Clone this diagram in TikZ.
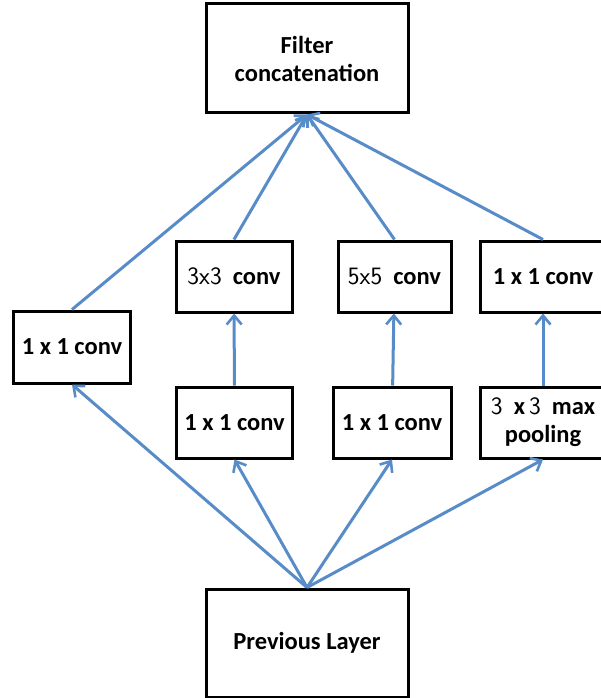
\documentclass[tikz,border=0pt]{standalone}
\usepackage{fontspec}
\setmainfont{Carlito}
\usepackage{tikz}
\usetikzlibrary{arrows.meta}
\definecolor{flowblue}{RGB}{88,140,200}
\tikzset{ layer_box/.style = {rectangle, draw, line width=3pt, align=center, inner sep=0pt, font=\fontsize{24.5}{28}\selectfont\bfseries} }
\tikzset{ flow/.style = {draw=flowblue, line width=3pt, -{Straight Barb[length=9pt,width=15pt,line width=2.6pt]}} }
\newcommand{\dig}[1]{{\sffamily\mdseries\fontsize{25}{28}\selectfont #1}}

\begin{document}
\begin{tikzpicture}[x=1pt,y=-1pt]
        \useasboundingbox (0,0) rectangle (601,698);
        \node[layer_box, minimum width=202pt, minimum height=109pt] (concat) at (307,58.5) {Filter\\concatenation};
        \node[layer_box, minimum width=202pt, minimum height=108pt] (prev) at (307,643) {Previous Layer};
        \node[layer_box, minimum width=117pt, minimum height=72pt] (1x1a) at (72,347) {1 x 1 conv};
        \node[layer_box, minimum width=116pt, minimum height=71pt] (3x3) at (234,276.5) {\dig{3x3}\ \ conv};
        \node[layer_box, minimum width=113pt, minimum height=71pt] (5x5) at (394.5,276.5) {\dig{5x5}\ \ conv};
        \node[layer_box, minimum width=126pt, minimum height=71pt] (1x1d) at (543,276.5) {1 x 1 conv};
        \node[layer_box, minimum width=116pt, minimum height=71pt] (1x1b) at (234.5,422.5) {1 x 1 conv};
        \node[layer_box, minimum width=118pt, minimum height=71pt] (1x1c) at (392,422.5) {1 x 1 conv};
        \node[layer_box, minimum width=126pt, minimum height=71pt] (pool) at (543,422.5) {\dig{3}\ \ x\,\dig{3}\ \ max\\pooling};
        \draw[flow] (prev.north) -- (1x1a.south);
        \draw[flow] (prev.north) -- (1x1b.south);
        \draw[flow] (prev.north) -- (1x1c.south);
        \draw[flow] (prev.north) -- (pool.south);
        \draw[flow] (1x1b) -- (3x3);
        \draw[flow] (1x1c) -- (5x5);
        \draw[flow] (pool) -- (1x1d);
        \draw[flow] (1x1a.north) -- (concat.south);
        \draw[flow] (3x3.north) -- (concat.south);
        \draw[flow] (5x5.north) -- (concat.south);
        \draw[flow] (1x1d.north) -- (concat.south);
    \end{tikzpicture}
\end{document}
